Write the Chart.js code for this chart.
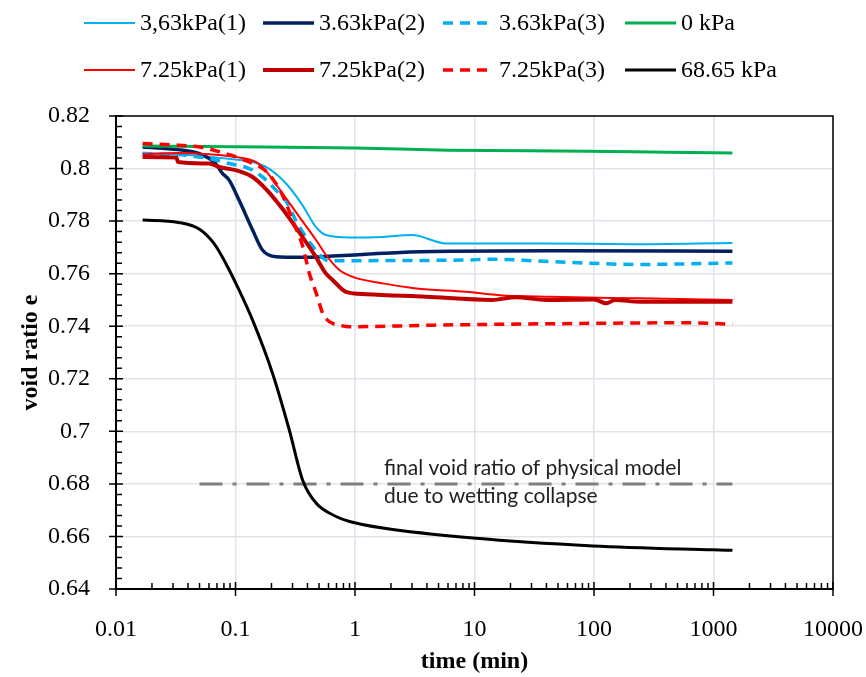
<!DOCTYPE html>
<html>
<head>
<meta charset="utf-8">
<script src="https://cdn.jsdelivr.net/npm/chart.js@4.4.1/dist/chart.umd.min.js"></script>
<style>
  body { margin: 0; background: #fff; }
  canvas { display: block; }
</style>
</head>
<body>
<canvas id="chart" width="866" height="677"></canvas>
<script>
// time in minutes (log axis) and void ratio e
var seriesNames = ['3,63kPa(1)', '3.63kPa(2)', '3.63kPa(3)', '0 kPa', '7.25kPa(1)', '7.25kPa(2)', '7.25kPa(3)', '68.65 kPa'];

var t363a = [0.0167, 0.033, 0.06, 0.1, 0.139, 0.19, 0.265, 0.364, 0.47, 0.57, 0.9, 1.7, 3.0, 5.8, 40, 200, 1440];
var e363a = [0.8059, 0.8054, 0.8044, 0.8034, 0.8025, 0.8000, 0.7943, 0.7860, 0.7778, 0.7747, 0.7738, 0.7740, 0.7747, 0.7715, 0.7715, 0.7712, 0.7717];

var t363b = [0.0167, 0.033, 0.05, 0.068, 0.078, 0.0885, 0.107, 0.139, 0.168, 0.218, 0.342, 0.65, 1.24, 2.4, 6.2, 43, 1440];
var e363b = [0.8082, 0.8072, 0.8057, 0.8019, 0.7981, 0.7956, 0.7880, 0.7766, 0.7690, 0.7664, 0.7662, 0.7667, 0.7674, 0.7681, 0.7685, 0.7687, 0.7685];

var t363c = [0.0167, 0.033, 0.06, 0.0885, 0.13, 0.168, 0.218, 0.265, 0.342, 0.47, 0.57, 0.65, 2, 8.5, 14, 35, 240, 1440];
var e363c = [0.8057, 0.8053, 0.8038, 0.8019, 0.8000, 0.7968, 0.7918, 0.7875, 0.7778, 0.7690, 0.7652, 0.7649, 0.7650, 0.7652, 0.7655, 0.7648, 0.7635, 0.7641];

var t0 = [0.0167, 0.1, 1, 6, 87, 400, 1440];
var e0 = [0.8086, 0.8083, 0.8078, 0.8070, 0.8066, 0.8062, 0.8059];

var t725a = [0.0167, 0.033, 0.06, 0.1, 0.148, 0.18, 0.248, 0.342, 0.472, 0.572, 0.74, 0.957, 1.71, 3.25, 8.5, 16.2, 42.6, 240, 1440];
var e725a = [0.8054, 0.8059, 0.8054, 0.8044, 0.8025, 0.7990, 0.7905, 0.7816, 0.7728, 0.7671, 0.7614, 0.7588, 0.7563, 0.7544, 0.7531, 0.7518, 0.7512, 0.7506, 0.7500];

var t725b = [0.0167, 0.032, 0.033, 0.06, 0.073, 0.1, 0.139, 0.18, 0.248, 0.342, 0.47, 0.57, 0.65, 0.84, 1.24, 3.9, 14, 22, 40, 100, 127, 150, 242, 1440];
var e725b = [0.8044, 0.8042, 0.8025, 0.8019, 0.8006, 0.7994, 0.7968, 0.7922, 0.7846, 0.7757, 0.7664, 0.7601, 0.7576, 0.7531, 0.7522, 0.7512, 0.7500, 0.7510, 0.7500, 0.7502, 0.7487, 0.7500, 0.7493, 0.7493];

var t725c = [0.0167, 0.033, 0.05, 0.083, 0.13, 0.18, 0.248, 0.30, 0.364, 0.415, 0.47, 0.503, 0.536, 0.59, 0.65, 0.74, 0.9, 4.5, 35, 555, 1440];
var e725c = [0.8095, 0.8089, 0.8082, 0.8057, 0.8025, 0.7990, 0.7898, 0.7804, 0.7706, 0.7601, 0.7530, 0.7487, 0.7449, 0.7423, 0.7411, 0.7404, 0.7398, 0.7404, 0.7409, 0.7413, 0.7408];

var t6865 = [0.0167, 0.0333, 0.05, 0.066, 0.083, 0.107, 0.139, 0.204, 0.282, 0.364, 0.472, 0.694, 0.9, 1.71, 9.7, 98, 996, 1440];
var e6865 = [0.7804, 0.7795, 0.7769, 0.7715, 0.7639, 0.7538, 0.7423, 0.7221, 0.7005, 0.6815, 0.6727, 0.6676, 0.6657, 0.6632, 0.6594, 0.6564, 0.6549, 0.6547];

// final void ratio of the physical model
var tRef = [0.05, 1440];
var eRef = [0.68, 0.68];
var refText = ['final void ratio of physical model', 'due to wetting collapse'];

var xTicks = [0.01, 0.1, 1, 10, 100, 1000, 10000];
var xTickLabels = ['0.01', '0.1', '1', '10', '100', '1000', '10000'];
var yTicks = [0.64, 0.66, 0.68, 0.70, 0.72, 0.74, 0.76, 0.78, 0.80, 0.82];
var yTickLabels = ['0.64', '0.66', '0.68', '0.7', '0.72', '0.74', '0.76', '0.78', '0.8', '0.82'];

var serif = 'Liberation Serif';

function series(label, t, e, color, width, dash, order) {
  return {
    label: label,
    data: t.map(function (x, i) { return { x: x, y: e[i] }; }),
    borderColor: color,
    backgroundColor: color,
    borderWidth: width,
    borderDash: dash,
    pointRadius: 0,
    fill: false,
    cubicInterpolationMode: 'monotone',
    order: order
  };
}

var datasets = [
  series(seriesNames[0], t363a, e363a, '#00b0f0', 2, [], 8),
  series(seriesNames[1], t363b, e363b, '#002060', 3.5, [], 7),
  series(seriesNames[2], t363c, e363c, '#00b0f0', 3.5, [10, 7], 6),
  series(seriesNames[3], t0, e0, '#00b050', 3, [], 5),
  series(seriesNames[4], t725a, e725a, '#ff0000', 2, [], 4),
  series(seriesNames[5], t725b, e725b, '#c00000', 4, [], 3),
  series(seriesNames[6], t725c, e725c, '#ff0000', 3.5, [10, 7], 2),
  series(seriesNames[7], t6865, e6865, '#000000', 3, [], 1),
  series('', tRef, eRef, '#7f7f7f', 3, [23, 10, 4, 10], 9)
];

// frame, crossing ticks, note text and the two-row legend
var decor = {
  id: 'decor',
  afterDraw: function (chart) {
    var ctx = chart.ctx, a = chart.chartArea;
    var xs = chart.scales.x, ys = chart.scales.y;
    ctx.save();
    ctx.strokeStyle = '#000';
    ctx.lineWidth = 1.5;
    ctx.beginPath();
    ctx.moveTo(a.left, a.top);
    ctx.lineTo(a.right, a.top);
    ctx.lineTo(a.right, a.bottom);
    ctx.stroke();

    ctx.beginPath();
    xTicks.forEach(function (v, i) {
      var px = xs.getPixelForValue(v);
      ctx.moveTo(px, a.bottom - 7);
      ctx.lineTo(px, a.bottom + 7);
      if (i < xTicks.length - 1) {
        for (var k = 2; k < 10; k++) {
          var mx = xs.getPixelForValue(v * k);
          ctx.moveTo(mx, a.bottom);
          ctx.lineTo(mx, a.bottom - 6);
        }
      }
    });
    yTicks.forEach(function (v, i) {
      var py = ys.getPixelForValue(v);
      ctx.moveTo(a.left - 7, py);
      ctx.lineTo(a.left + 7, py);
      if (i < yTicks.length - 1) {
        for (var k = 1; k < 5; k++) {
          var my = ys.getPixelForValue(v + k * 0.004);
          ctx.moveTo(a.left, my);
          ctx.lineTo(a.left + 6, my);
        }
      }
    });
    ctx.stroke();

    // note around the reference line
    var nx = xs.getPixelForValue(1.75), ny = ys.getPixelForValue(eRef[0]);
    ctx.fillStyle = '#222';
    ctx.font = '21px Lato';
    ctx.textBaseline = 'alphabetic';
    ctx.textAlign = 'left';
    ctx.fillText(refText[0], nx, ny - 9);
    ctx.fillText(refText[1], nx, ny + 19);

    // legend
    var cols = [84, 263, 443, 625], rows = [23, 70];
    ctx.font = '24px "' + serif + '"';
    ctx.textBaseline = 'middle';
    chart.data.datasets.slice(0, 8).forEach(function (ds, i) {
      var x = cols[i % 4], y = rows[Math.floor(i / 4)];
      ctx.strokeStyle = ds.borderColor;
      ctx.lineWidth = ds.borderWidth;
      ctx.setLineDash(ds.borderDash);
      ctx.beginPath();
      ctx.moveTo(x, y);
      ctx.lineTo(x + 51, y);
      ctx.stroke();
      ctx.setLineDash([]);
      ctx.fillStyle = '#000';
      ctx.fillText(ds.label, x + 56, y + 1);
    });
    ctx.restore();
  }
};

var config = {
  type: 'line',
  data: { datasets: datasets },
  options: {
    responsive: false,
    animation: false,
    events: [],
    layout: { padding: { top: 116, right: 33, left: 0, bottom: 0 } },
    plugins: { legend: { display: false }, tooltip: { enabled: false } },
    scales: {
      x: {
        type: 'logarithmic',
        min: 0.01,
        max: 10000,
        afterFit: function (s) { s.height = 88; s.paddingLeft = 0; s.paddingRight = 0; },
        afterBuildTicks: function (s) { s.ticks = xTicks.map(function (v) { return { value: v }; }); },
        grid: { color: '#dfe3ea', lineWidth: 1.5, drawTicks: false },
        border: { color: '#000', width: 2 },
        ticks: {
          autoSkip: false,
          maxRotation: 0,
          padding: 26,
          color: '#000',
          font: { family: serif, size: 24 },
          callback: function (v, i) { return xTickLabels[i]; }
        },
        title: {
          display: true,
          text: 'time (min)',
          color: '#000',
          font: { family: serif, size: 24, weight: 'bold' },
          padding: { top: 0, bottom: 1 }
        }
      },
      y: {
        type: 'linear',
        min: 0.64,
        max: 0.82,
        afterFit: function (s) { s.width = 116; s.paddingTop = 0; s.paddingBottom = 0; },
        afterBuildTicks: function (s) { s.ticks = yTicks.map(function (v) { return { value: v }; }); },
        grid: { color: '#dfe3ea', lineWidth: 1.5, drawTicks: false },
        border: { color: '#000', width: 2 },
        ticks: {
          padding: 26,
          color: '#000',
          font: { family: serif, size: 24 },
          callback: function (v, i) { return yTickLabels[i]; }
        },
        title: {
          display: true,
          text: 'void ratio e',
          color: '#000',
          font: { family: serif, size: 24, weight: 'bold' },
          padding: { top: 16, bottom: 0 }
        }
      }
    }
  },
  plugins: [decor]
};

window.onload = function () {
  var ctx = document.getElementById('chart').getContext('2d');
  window.voidChart = new Chart(ctx, config);
};
</script>
</body>
</html>
